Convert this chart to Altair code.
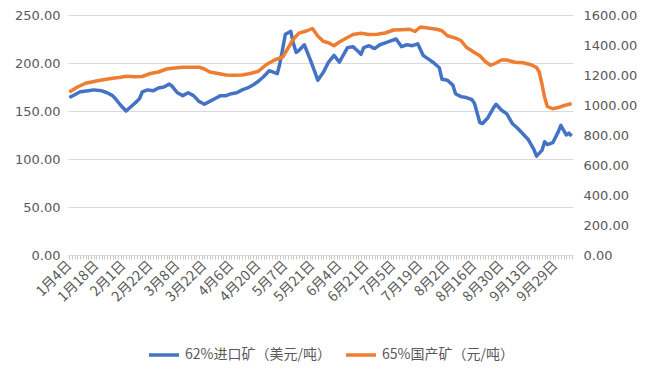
import json
import altair as alt
import pandas as pd

tick_labels = ["1月4日", "1月18日", "2月1日", "2月22日", "3月8日", "3月22日", "4月6日",
               "4月20日", "5月7日", "5月21日", "6月4日", "6月21日", "7月5日", "7月19日",
               "8月2日", "8月16日", "8月30日", "9月13日", "9月29日"]
n_days = 187
series_names = ["62%进口矿（美元/吨）", "65%国产矿（元/吨）"]

blue_idx = [0, 2, 4, 7, 9, 12, 14, 16, 17, 19, 21, 23, 25, 26, 27, 29, 31, 33, 35, 37, 38, 40,
            42, 44, 46, 48, 50, 52, 54, 56, 58, 60, 62, 64, 66, 68, 70, 72, 74, 76, 77, 78, 79,
            80, 82, 83, 84, 85, 87, 89, 91, 92, 94, 96, 98, 100, 101, 103, 105, 107, 108, 109,
            111, 113, 115, 117, 119, 121, 123, 125, 127, 129, 131, 133, 135, 137, 138, 140, 142,
            143, 145, 147, 149, 150, 152, 153, 155, 157, 158, 160, 162, 164, 166, 168, 170, 172,
            173, 175, 176, 177, 179, 181, 182, 183, 184, 185, 186]
blue_val = [164, 167, 170, 171, 172, 171, 169, 166, 163, 156, 150, 155, 160, 163, 170, 172, 171,
            174, 175, 178, 176, 169, 166, 169, 166, 160, 157, 160, 163, 166, 166, 168, 169, 172,
            174, 177, 181, 186, 192, 190, 189, 200, 215, 230, 233, 220, 211, 213, 219, 205, 190,
            182, 190, 201, 208, 201, 206, 216, 217, 212, 209, 216, 218, 215, 219, 221, 223, 225,
            217, 219, 218, 220, 208, 204, 200, 195, 183, 182, 177, 168, 165, 164, 162, 158, 138,
            137, 143, 153, 157, 151, 147, 137, 132, 126, 120, 110, 103, 109, 118, 115, 117, 128,
            135, 130, 125, 127, 124]

orange_idx = [0, 3, 6, 10, 13, 16, 19, 21, 24, 27, 30, 33, 36, 39, 42, 45, 48, 50, 52, 55, 58,
              61, 64, 67, 70, 73, 76, 79, 81, 83, 85, 88, 90, 92, 94, 96, 98, 100, 102, 105, 108,
              111, 114, 117, 120, 123, 126, 128, 130, 132, 134, 136, 138, 140, 143, 145, 147, 150,
              152, 154, 156, 158, 160, 162, 165, 168, 171, 173, 174, 175, 176, 177, 179, 181, 183,
              185, 186]
orange_val = [1086, 1120, 1145, 1160, 1170, 1178, 1185, 1192, 1188, 1190, 1210, 1220, 1240, 1246,
              1252, 1252, 1252, 1240, 1220, 1210, 1200, 1198, 1200, 1210, 1225, 1270, 1300, 1320,
              1380, 1440, 1479, 1495, 1510, 1460, 1425, 1414, 1395, 1420, 1440, 1470, 1478, 1470,
              1472, 1480, 1500, 1502, 1505, 1490, 1520, 1515, 1510, 1505, 1495, 1462, 1446, 1430,
              1385, 1350, 1328, 1290, 1265, 1280, 1300, 1300, 1285, 1282, 1268, 1250, 1220, 1140,
              1050, 990, 975, 983, 995, 1005, 1008]

left_ticks = [0, 50, 100, 150, 200, 250]
right_ticks = [0, 200, 400, 600, 800, 1000, 1200, 1400, 1600]
colors = ["#4472C4", "#ED7D31"]

blue = pd.DataFrame({"idx": blue_idx, "v": blue_val, "series": series_names[0]})
orange = pd.DataFrame({"idx": orange_idx, "v": orange_val, "series": series_names[1]})

label_expr = ("datum.value % 10 === 0 ? " + json.dumps(tick_labels, ensure_ascii=False)
              + "[datum.value / 10] : ''")

x_enc = alt.X(
    "idx:Q",
    scale=alt.Scale(domain=[-0.5, n_days - 0.5], nice=False, zero=False),
    axis=alt.Axis(
        values=list(range(n_days)), labelExpr=label_expr, labelAngle=-45,
        labelAlign="right", labelBaseline="middle",
        labelFont="Noto Sans CJK SC", labelFontSize=14, labelColor="#595959",
        labelOverlap=False, labelBound=False, labelPadding=4,
        tickColor="#c8c8c8", tickSize=4, domainColor="#d9d9d9", grid=False, title=None,
    ),
)

color_enc = alt.Color(
    "series:N",
    scale=alt.Scale(domain=series_names, range=colors),
    legend=alt.Legend(
        orient="none", legendX=79, legendY=323, direction="horizontal", title=None,
        symbolType="stroke", symbolSize=900, symbolStrokeWidth=3.5,
        labelFont="Noto Sans CJK SC", labelFontSize=14, labelColor="#595959",
        columnPadding=8, labelLimit=300,
    ),
)

left = alt.Chart(blue).mark_line(strokeWidth=3.5, strokeJoin="round").encode(
    x=x_enc,
    y=alt.Y("v:Q", scale=alt.Scale(domain=[0, 250], nice=False),
            axis=alt.Axis(values=left_ticks, format=".2f", orient="left", grid=True,
                          gridColor="#d9d9d9", domain=False, ticks=False, labelPadding=8,
                          labelFont="DejaVu Sans", labelFontSize=13, labelColor="#595959",
                          title=None)),
    color=color_enc,
)

right = alt.Chart(orange).mark_line(strokeWidth=3.5, strokeJoin="round").encode(
    x=x_enc,
    y=alt.Y("v:Q", scale=alt.Scale(domain=[0, 1600], nice=False),
            axis=alt.Axis(values=right_ticks, format=".2f", orient="right", grid=False,
                          domain=False, ticks=False, labelPadding=10,
                          labelFont="DejaVu Sans", labelFontSize=13, labelColor="#595959",
                          title=None)),
    color=color_enc,
)

chart = alt.layer(left, right).resolve_scale(y="independent").properties(
    width=505, height=240,
    autosize=alt.AutoSizeParams(type="none"),
    padding={"left": 60, "top": 7, "right": 75, "bottom": 110},
).configure_view(stroke=None)

chart.save("out.html", embed_options={"renderer": "svg", "actions": False})
